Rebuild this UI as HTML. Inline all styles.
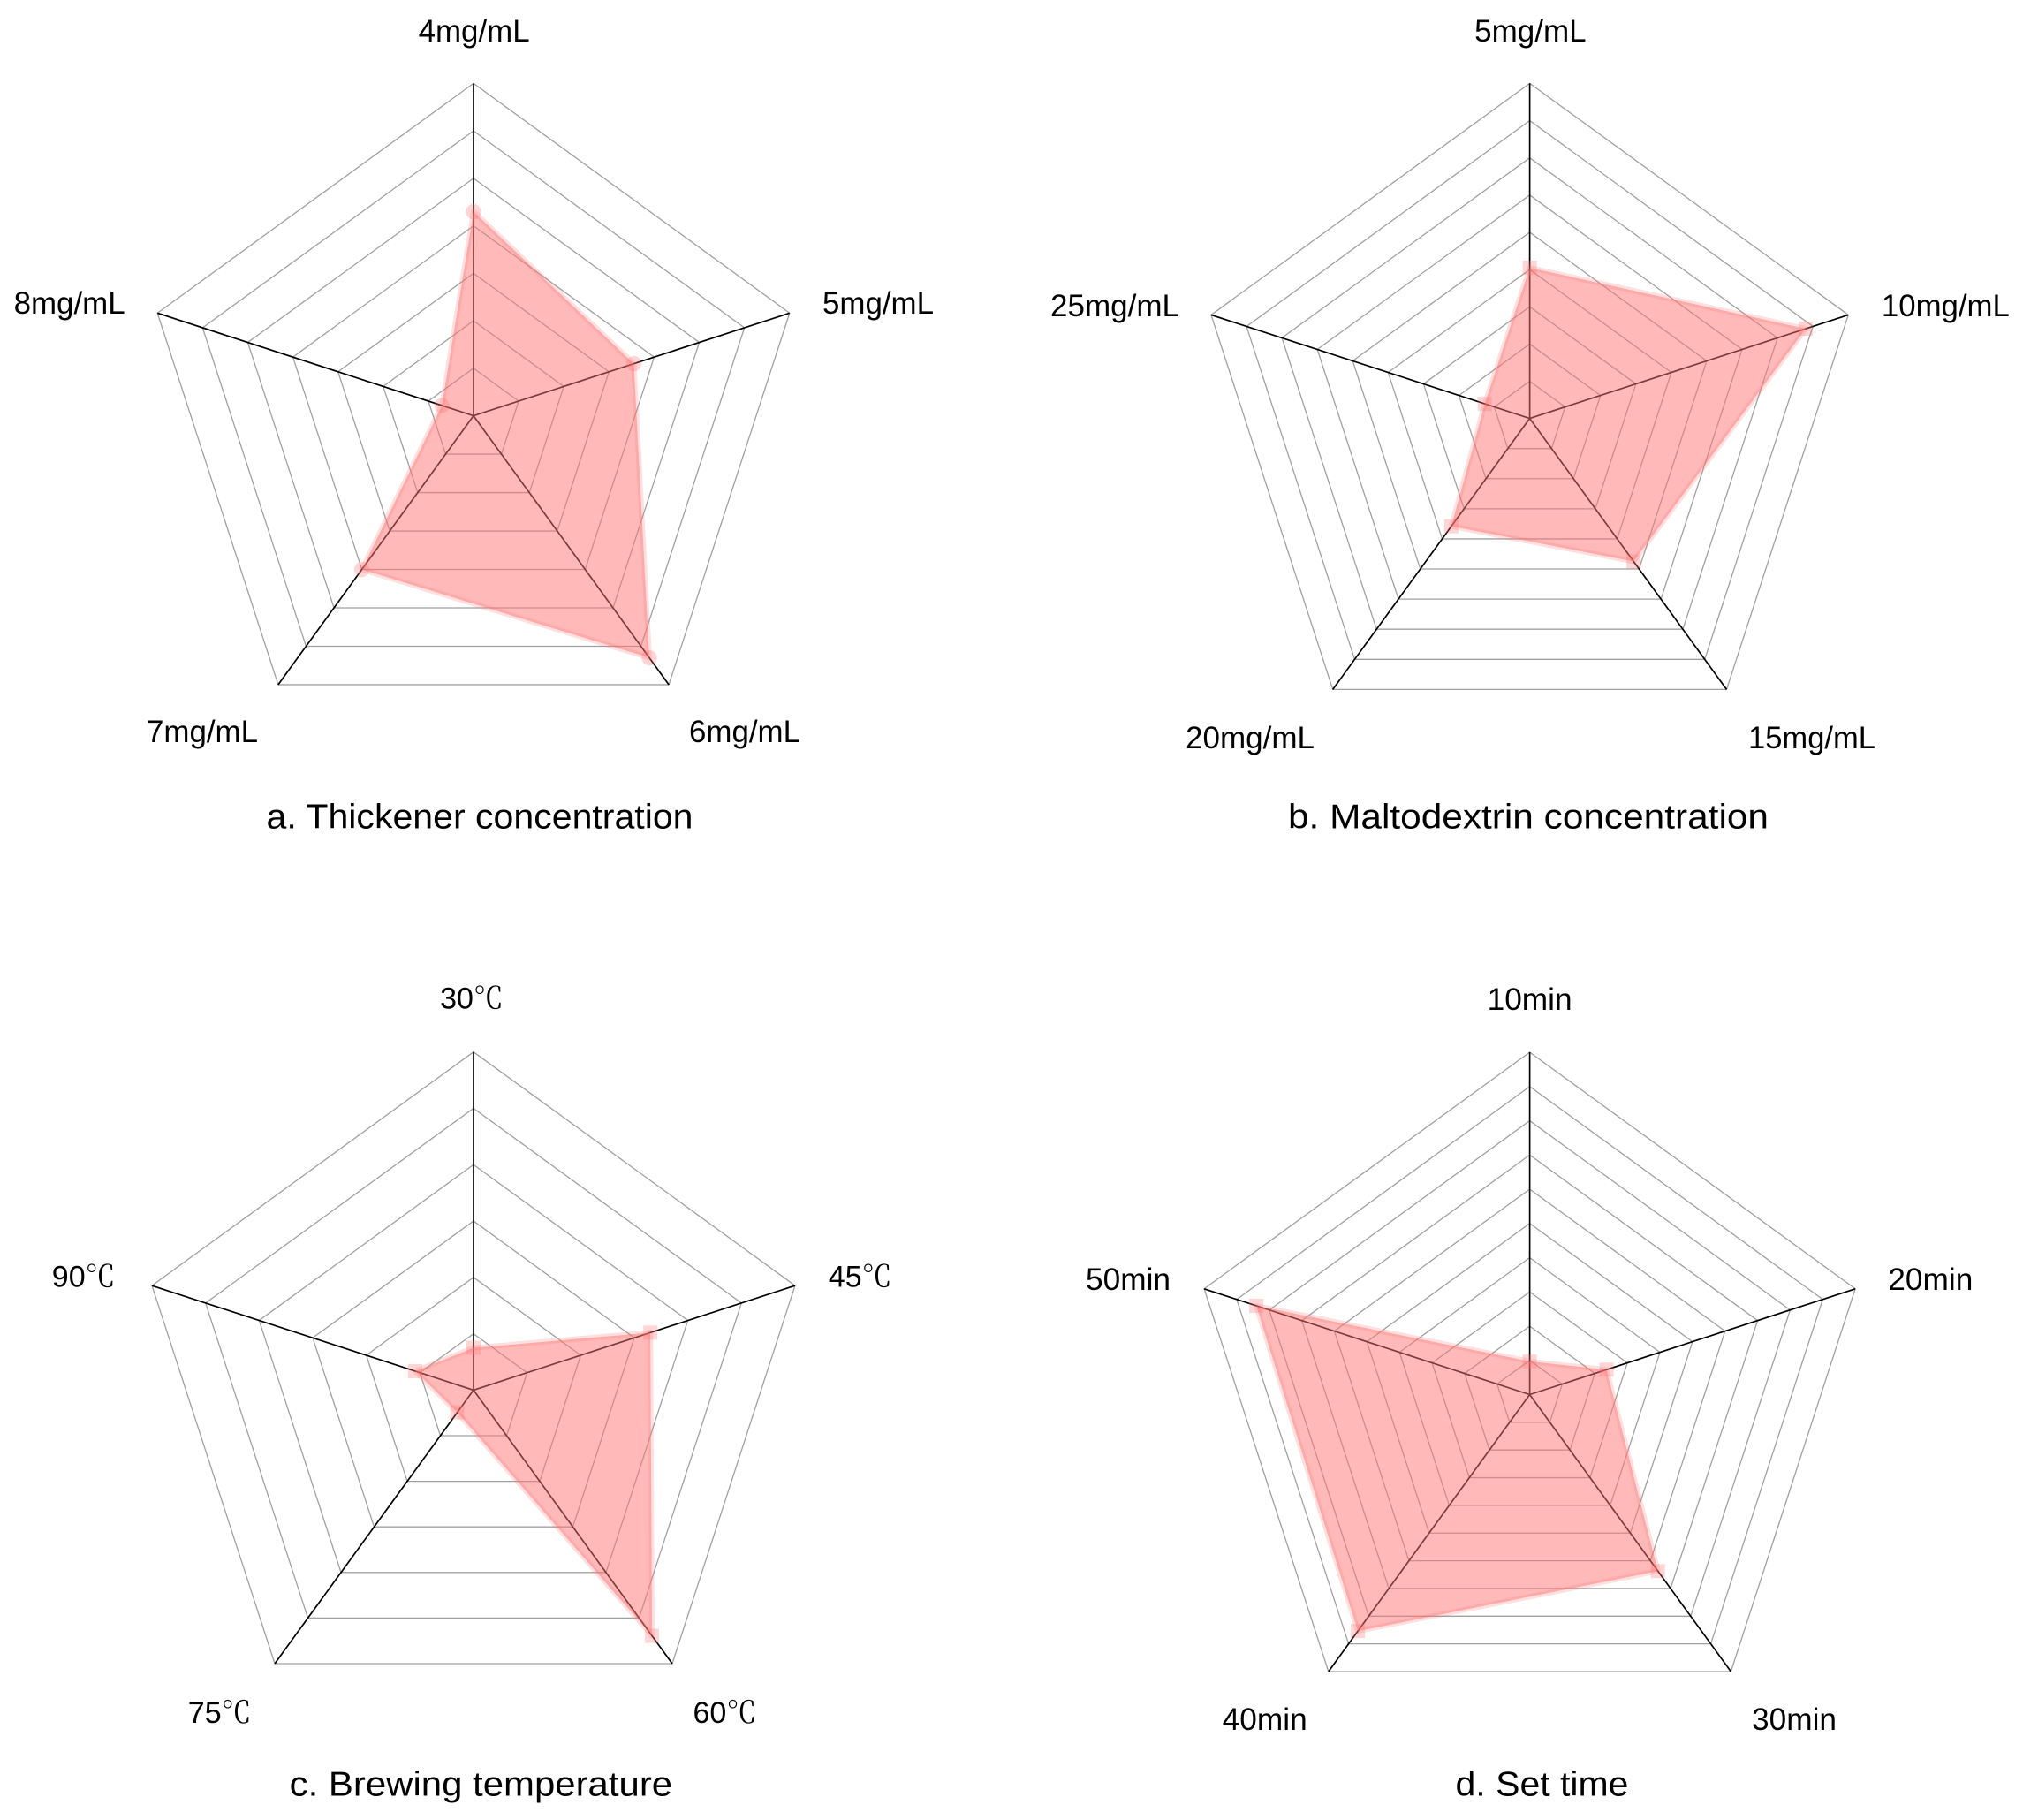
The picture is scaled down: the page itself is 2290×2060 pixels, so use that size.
<!DOCTYPE html>
<html lang="en">
<head>
<meta charset="utf-8">
<title>Radar charts of sensory scores</title>
<style>
html,body{margin:0;padding:0;background:#fff;}
svg{display:block;}
text{font-family:"Liberation Sans","Noto Serif CJK SC",sans-serif;fill:#000;text-anchor:middle;}
.lab{font-size:35px;}
.deg{font-size:34px;}
.deg tspan{font-family:"Noto Serif CJK SC","Noto Sans CJK SC",serif;font-size:34px;}
.ttl{font-size:39px;}
</style>
</head>
<body>
<svg id="figure" xmlns="http://www.w3.org/2000/svg" width="2290" height="2060" viewBox="0 0 2290 2060">
  <rect width="2290" height="2060" fill="#fff"/>
  <g id="panel-a"></g>
  <g id="panel-b"></g>
  <g id="panel-c"></g>
  <g id="panel-d"></g>

  <text class="lab" x="536.6" y="47" textLength="126" lengthAdjust="spacingAndGlyphs">4mg/mL</text>
  <text class="lab" x="994" y="355" textLength="126" lengthAdjust="spacingAndGlyphs">5mg/mL</text>
  <text class="lab" x="843" y="840" textLength="126" lengthAdjust="spacingAndGlyphs">6mg/mL</text>
  <text class="lab" x="229" y="840" textLength="126" lengthAdjust="spacingAndGlyphs">7mg/mL</text>
  <text class="lab" x="78.6" y="355" textLength="126" lengthAdjust="spacingAndGlyphs">8mg/mL</text>
  <text class="ttl" x="543" y="937.5" textLength="483" lengthAdjust="spacingAndGlyphs">a. Thickener concentration</text>

  <text class="lab" x="1732.4" y="47" textLength="126.5" lengthAdjust="spacingAndGlyphs">5mg/mL</text>
  <text class="lab" x="2202.4" y="358" textLength="145" lengthAdjust="spacingAndGlyphs">10mg/mL</text>
  <text class="lab" x="2051" y="847" textLength="144" lengthAdjust="spacingAndGlyphs">15mg/mL</text>
  <text class="lab" x="1415" y="847" textLength="146" lengthAdjust="spacingAndGlyphs">20mg/mL</text>
  <text class="lab" x="1262" y="358" textLength="146" lengthAdjust="spacingAndGlyphs">25mg/mL</text>
  <text class="ttl" x="1730" y="937.5" textLength="544" lengthAdjust="spacingAndGlyphs">b. Maltodextrin concentration</text>

  <text class="deg" x="534" y="1141.6">30<tspan>℃</tspan></text>
  <text class="deg" x="973.7" y="1456.7">45<tspan>℃</tspan></text>
  <text class="deg" x="820.4" y="1950">60<tspan>℃</tspan></text>
  <text class="deg" x="248.7" y="1950">75<tspan>℃</tspan></text>
  <text class="deg" x="94.7" y="1456.7">90<tspan>℃</tspan></text>
  <text class="ttl" x="544.4" y="2032.6" textLength="433.5" lengthAdjust="spacingAndGlyphs">c. Brewing temperature</text>

  <text class="lab" x="1731.6" y="1143" textLength="96" lengthAdjust="spacingAndGlyphs">10min</text>
  <text class="lab" x="2185.3" y="1460" textLength="96" lengthAdjust="spacingAndGlyphs">20min</text>
  <text class="lab" x="2031" y="1958" textLength="96" lengthAdjust="spacingAndGlyphs">30min</text>
  <text class="lab" x="1431.7" y="1958" textLength="96" lengthAdjust="spacingAndGlyphs">40min</text>
  <text class="lab" x="1277" y="1460" textLength="96" lengthAdjust="spacingAndGlyphs">50min</text>
  <text class="ttl" x="1745.5" y="2032.6" textLength="196" lengthAdjust="spacingAndGlyphs">d. Set time</text>
</svg>
<script>
// Chart data: value on each spoke, measured in grid rings from the centre.
const thickenerCategories = ['4mg/mL', '5mg/mL', '6mg/mL', '7mg/mL', '8mg/mL'];
const thickenerValues = [4.3, 3.55, 6.3, 4.0, 0.7];
const thickenerRings = 7;

const maltodextrinCategories = ['5mg/mL', '10mg/mL', '15mg/mL', '20mg/mL', '25mg/mL'];
const maltodextrinValues = [4.05, 7.8, 4.75, 3.58, 1.27];
const maltodextrinRings = 9;

const temperatureCategories = ['30C', '45C', '60C', '75C', '90C'];
const temperatureValues = [0.75, 3.3, 5.39, 0.49, 1.09];
const temperatureRings = 6;

const setTimeCategories = ['10min', '20min', '30min', '40min', '50min'];
const setTimeValues = [0.97, 2.36, 6.37, 8.54, 8.4];
const setTimeRings = 10;

const SVG_NS = 'http://www.w3.org/2000/svg';

function makeEl(tag, parent) {
  const el = document.createElementNS(SVG_NS, tag);
  parent.appendChild(el);
  return el;
}

function radarPoint(cx, cy, radius, spoke, spokes, fraction) {
  const angle = 2 * Math.PI * spoke / spokes;
  return [cx + radius * fraction * Math.sin(angle), cy - radius * fraction * Math.cos(angle)];
}

function pointsAttr(points) {
  return points.map(function (p) { return p[0].toFixed(2) + ',' + p[1].toFixed(2); }).join(' ');
}

function drawRadar(groupId, cx, cy, radius, categories, values, rings, markerShape) {
  const group = document.getElementById(groupId);
  const spokes = categories.length;

  for (let r = 1; r <= rings; r++) {
    const ringPoints = categories.map(function (c, i) {
      return radarPoint(cx, cy, radius, i, spokes, r / rings);
    });
    const ring = makeEl('polygon', group);
    
    
    ring.setAttribute('points', pointsAttr(ringPoints));
    ring.setAttribute('fill', 'none');
    ring.setAttribute('stroke', '#a0a0a0');
    ring.setAttribute('stroke-width', '1.3');
  }

  categories.forEach(function (c, i) {
    const end = radarPoint(cx, cy, radius, i, spokes, 1);
    const axis = makeEl('line', group);
    
    
    axis.setAttribute('x1', cx);
    axis.setAttribute('y1', cy);
    axis.setAttribute('x2', end[0].toFixed(2));
    axis.setAttribute('y2', end[1].toFixed(2));
    axis.setAttribute('stroke', '#000');
    axis.setAttribute('stroke-width', '1.7');
  });

  const dataPoints = values.map(function (v, i) {
    return radarPoint(cx, cy, radius, i, spokes, v / rings);
  });

  const area = makeEl('polygon', group);
  
  
  area.setAttribute('points', pointsAttr(dataPoints));
  area.setAttribute('fill', 'rgba(255,115,115,0.5)');
  area.setAttribute('stroke', 'rgba(255,115,115,0.22)');
  area.setAttribute('stroke-width', '6');
  area.setAttribute('stroke-linejoin', 'round');

  dataPoints.forEach(function (p) {
    let marker;
    if (markerShape === 'circle') {
      marker = makeEl('circle', group);
      marker.setAttribute('cx', p[0].toFixed(2));
      marker.setAttribute('cy', p[1].toFixed(2));
      marker.setAttribute('r', '8.7');
    } else {
      marker = makeEl('rect', group);
      marker.setAttribute('x', (p[0] - 8).toFixed(2));
      marker.setAttribute('y', (p[1] - 8).toFixed(2));
      marker.setAttribute('width', '16');
      marker.setAttribute('height', '16');
    }
    
    
    marker.setAttribute('fill', 'rgba(255,115,115,0.3)');
  });
}

drawRadar('panel-a', 536, 470.6, 376.2, thickenerCategories, thickenerValues, thickenerRings, 'circle');
drawRadar('panel-b', 1731.6, 473.6, 379.2, maltodextrinCategories, maltodextrinValues, maltodextrinRings, 'square');
drawRadar('panel-c', 536, 1573.4, 382.7, temperatureCategories, temperatureValues, temperatureRings, 'square');
drawRadar('panel-d', 1731.6, 1578.5, 387.5, setTimeCategories, setTimeValues, setTimeRings, 'square');
</script>
</body>
</html>
